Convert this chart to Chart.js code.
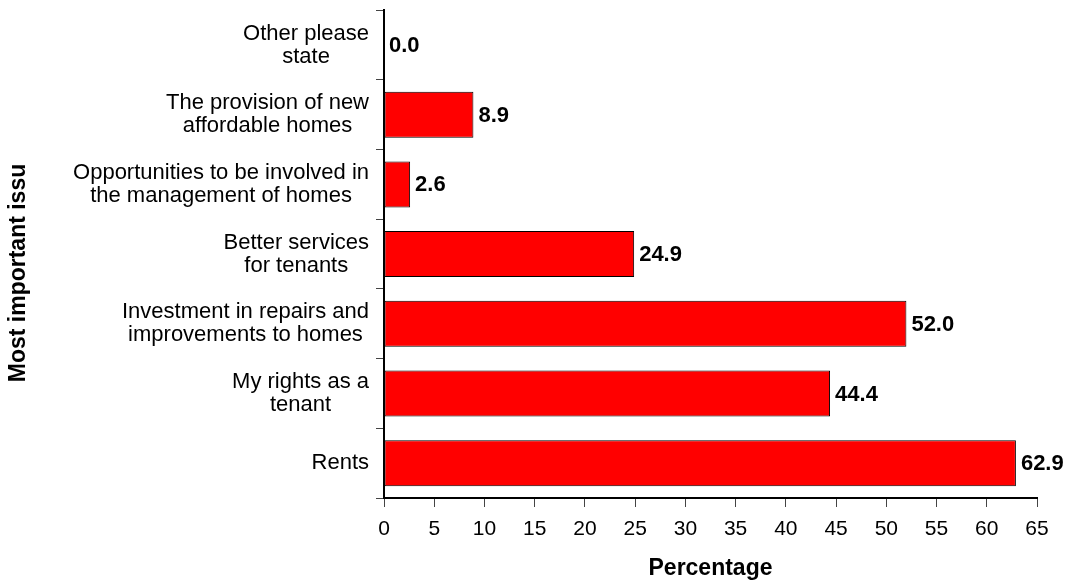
<!DOCTYPE html>
<html>
<head>
<meta charset="utf-8">
<script src="https://cdn.jsdelivr.net/npm/chart.js@4/dist/chart.umd.min.js"></script>
<style>
html, body { margin: 0; padding: 0; background: #fff; }
#wrap { width: 1067px; height: 580px; }
</style>
</head>
<body>
<div id="wrap"><canvas id="issueChart"></canvas></div>
<script>
const categories = [
    ['Other please', 'state'],
    ['The provision of new', 'affordable homes'],
    ['Opportunities to be involved in', 'the management of homes'],
    ['Better services', 'for tenants'],
    ['Investment in repairs and', 'improvements to homes'],
    ['My rights as a', 'tenant'],
    ['Rents']
];
const percentages = [0.0, 8.9, 2.6, 24.9, 52.0, 44.4, 62.9];
const xTickValues = [0, 5, 10, 15, 20, 25, 30, 35, 40, 45, 50, 55, 60, 65];
const xTitle = 'Percentage';
const yTitle = 'Most important issu';

const FONT = '"Liberation Sans", Arial, sans-serif';

// category labels: block right aligned, each line centred inside the block
const labelPlugin = {
    id: 'labelPlugin',
    afterDraw(chart) {
        const ctx = chart.ctx;
        const yScale = chart.scales.y;
        ctx.save();
        ctx.font = '22px ' + FONT;
        ctx.fillStyle = '#000';
        ctx.textAlign = 'center';
        ctx.textBaseline = 'middle';
        const right = yScale.right - 15;
        const lh = 23;
        categories.forEach((lines, i) => {
            const y = yScale.getPixelForTick(i);
            const w = Math.max(...lines.map(l => ctx.measureText(l).width));
            lines.forEach((line, j) => {
                ctx.fillText(line, right - w / 2, y + (j - (lines.length - 1) / 2) * lh);
            });
        });
        // y axis title
        ctx.font = 'bold 23px ' + FONT;
        ctx.translate(19, 273);
        ctx.rotate(-Math.PI / 2);
        ctx.fillText(yTitle, 0, 0);
        ctx.restore();
    }
};

const valuePlugin = {
    id: 'valuePlugin',
    afterDatasetsDraw(chart) {
        const ctx = chart.ctx;
        const meta = chart.getDatasetMeta(0);
        ctx.save();
        ctx.font = 'bold 22px ' + FONT;
        ctx.fillStyle = '#000';
        ctx.textAlign = 'left';
        ctx.textBaseline = 'middle';
        meta.data.forEach((bar, i) => {
            ctx.fillText(percentages[i].toFixed(1), bar.x + 5, bar.y + 1);
        });
        ctx.restore();
    }
};

const ctx = document.getElementById('issueChart').getContext('2d');
new Chart(ctx, {
    type: 'bar',
    data: {
        labels: categories,
        datasets: [{
            data: percentages,
            backgroundColor: '#ff0000',
            borderColor: '#000',
            borderWidth: 1,
            borderSkipped: false,
            categoryPercentage: 0.66,
            barPercentage: 1
        }]
    },
    options: {
        indexAxis: 'y',
        responsive: true,
        maintainAspectRatio: false,
        animation: false,
        layout: { padding: { top: 8, right: 30, bottom: 0, left: 0 } },
        plugins: {
            legend: { display: false },
            tooltip: { enabled: false }
        },
        scales: {
            x: {
                min: 0,
                max: 65,
                afterBuildTicks: scale => {
                    scale.ticks = xTickValues.map(v => ({ value: v }));
                },
                afterFit: scale => { scale.height = 82; },
                grid: { drawOnChartArea: false, tickLength: 9, color: '#444', lineWidth: 1 },
                border: { color: '#000', width: 2 },
                ticks: { color: '#000', padding: 10, font: { family: FONT, size: 21 } },
                title: {
                    display: true,
                    text: xTitle,
                    color: '#000',
                    padding: { top: 0, bottom: 0 },
                    font: { family: FONT, size: 23, weight: 'bold', lineHeight: 1 }
                }
            },
            y: {
                afterFit: scale => { scale.width = 384; },
                grid: { drawOnChartArea: false, tickLength: 8, color: '#444', lineWidth: 1 },
                border: { color: '#000', width: 2 },
                ticks: { callback: () => '' }
            }
        }
    },
    plugins: [labelPlugin, valuePlugin]
});
</script>
</body>
</html>
